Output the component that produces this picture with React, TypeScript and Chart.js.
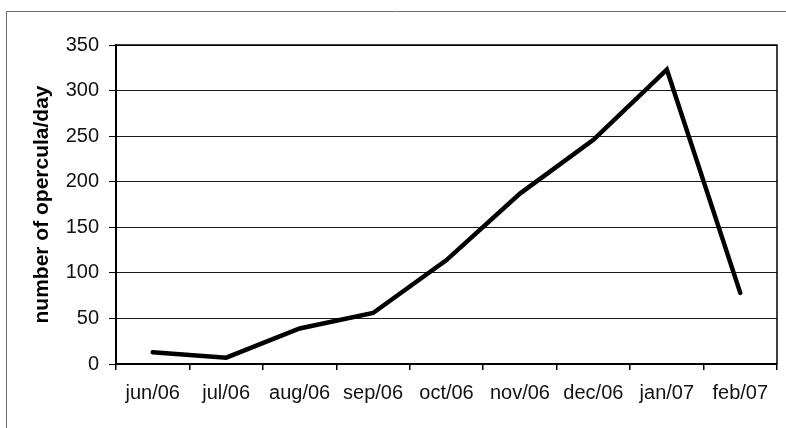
import React, { useEffect, useRef } from "react";
import { Chart, registerables } from "chart.js";

Chart.register(...registerables);

// Monthly sampling, June 2006 – February 2007
const months = ["jun/06", "jul/06", "aug/06", "sep/06", "oct/06", "nov/06", "dec/06", "jan/07", "feb/07"];
const operculaPerDay = [13, 7, 39, 56, 114, 187, 246, 323, 78];
const yMin = 0;
const yMax = 350;
const yStep = 50;
const yTitle = "number of opercula/day";

const FONT = "'Liberation Sans', Arial, Helvetica, sans-serif";

// Thin outer frame around the whole figure (open to the right and bottom)
const framePlugin = {
  id: "outerFrame",
  beforeDraw(chart: Chart) {
    const ctx = chart.ctx;
    ctx.save();
    ctx.fillStyle = "#ffffff";
    ctx.fillRect(0, 0, chart.width, chart.height);
    ctx.strokeStyle = "#6e6e6e";
    ctx.lineWidth = 1;
    ctx.beginPath();
    ctx.moveTo(6.5, chart.height);
    ctx.lineTo(6.5, 11.5);
    ctx.lineTo(chart.width, 11.5);
    ctx.stroke();
    ctx.restore();
  },
};

// Box around the plotting area
const plotBorderPlugin = {
  id: "plotBorder",
  beforeDatasetsDraw(chart: Chart) {
    const { ctx, chartArea } = chart;
    ctx.save();
    ctx.strokeStyle = "#000000";
    ctx.lineWidth = 1.5;
    ctx.beginPath();
    ctx.moveTo(chartArea.left, chartArea.top);
    ctx.lineTo(chartArea.right, chartArea.top);
    ctx.lineTo(chartArea.right, chartArea.bottom);
    ctx.stroke();
    ctx.restore();
  },
};

export default function App() {
  const canvasRef = useRef<HTMLCanvasElement | null>(null);

  useEffect(() => {
    const canvas = canvasRef.current;
    if (!canvas) return;
    const chart = new Chart(canvas, {
      type: "line",
      data: {
        labels: months,
        datasets: [
          {
            data: operculaPerDay,
            borderColor: "#000000",
            borderWidth: 4.5,
            pointRadius: 0,
            tension: 0,
            borderCapStyle: "round",
            fill: false,
          },
        ],
      },
      options: {
        animation: false,
        responsive: false,
        devicePixelRatio: 1,
        layout: { padding: { left: 0, top: 45, right: 9, bottom: 0 } },
        plugins: {
          legend: { display: false },
          tooltip: { enabled: false },
        },
        scales: {
          x: {
            type: "category",
            offset: true,
            afterFit: (scale: any) => {
              scale.height = 64;
            },
            grid: {
              offset: true,
              drawOnChartArea: false,
              drawTicks: true,
              tickLength: 6,
              color: "#000000",
              lineWidth: 1.5,
            },
            border: { display: true, color: "#000000", width: 2 },
            ticks: {
              color: "#111111",
              font: { family: FONT, size: 20 },
              padding: 11,
              maxRotation: 0,
              autoSkip: false,
            },
          },
          y: {
            min: yMin,
            max: yMax,
            afterFit: (scale: any) => {
              scale.width = 116;
            },
            grid: {
              color: "#1a1a1a",
              lineWidth: 1,
              drawTicks: true,
              tickLength: 7,
              tickColor: "#000000",
            },
            border: { display: true, color: "#000000", width: 2 },
            ticks: {
              stepSize: yStep,
              color: "#111111",
              font: { family: FONT, size: 20 },
              padding: 10,
            },
            title: {
              display: true,
              text: yTitle,
              color: "#000000",
              font: { family: FONT, size: 21, weight: "bold" },
              padding: { top: 30, bottom: 0 },
            },
          },
        },
      },
      plugins: [framePlugin, plotBorderPlugin],
    });
    return () => chart.destroy();
  }, []);

  return (
    <div style={{ position: "absolute", left: 0, top: 0, width: 786, height: 428, background: "#ffffff" }}>
      <canvas ref={canvasRef} width={786} height={428} style={{ display: "block" }} />
    </div>
  );
}
